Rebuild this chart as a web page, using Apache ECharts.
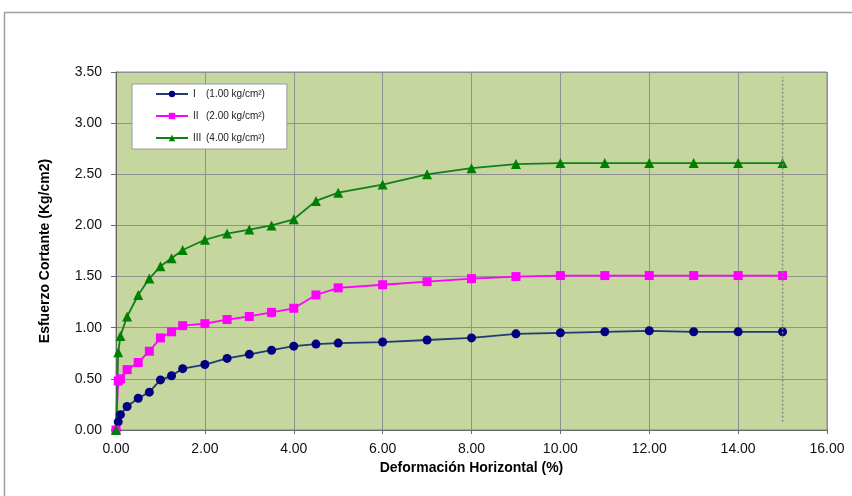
<!DOCTYPE html>
<html>
<head>
<meta charset="utf-8">
<script src="https://cdn.jsdelivr.net/npm/echarts@6/dist/echarts.min.js"></script>
<style>
html,body{margin:0;padding:0;background:#fff;}
#chart{width:852px;height:496px;}
</style>
</head>
<body>
<div id="chart"></div>
<script>
// Deformación horizontal (%)
const deformation = [0, 0.05, 0.1, 0.25, 0.5, 0.75, 1.0, 1.25, 1.5, 2.0, 2.5, 3.0, 3.5, 4.0, 4.5, 5, 6, 7, 8, 9, 10, 11, 12, 13, 14, 15];
// Esfuerzo cortante (Kg/cm2)
const seriesI   = [0, 0.08, 0.15, 0.23, 0.31, 0.37, 0.49, 0.53, 0.60, 0.64, 0.70, 0.74, 0.78, 0.82, 0.84, 0.85, 0.86, 0.88, 0.90, 0.94, 0.95, 0.96, 0.97, 0.96, 0.96, 0.96];
const seriesII  = [0, 0.48, 0.50, 0.59, 0.66, 0.77, 0.90, 0.96, 1.02, 1.04, 1.08, 1.11, 1.15, 1.19, 1.32, 1.39, 1.42, 1.45, 1.48, 1.50, 1.51, 1.51, 1.51, 1.51, 1.51, 1.51];
const seriesIII = [0, 0.76, 0.92, 1.11, 1.32, 1.48, 1.60, 1.68, 1.76, 1.86, 1.92, 1.96, 2.00, 2.06, 2.24, 2.32, 2.40, 2.50, 2.56, 2.60, 2.61, 2.61, 2.61, 2.61, 2.61, 2.61];
const seriesNames = ['I', 'II', 'III'];
const seriesLoads = ['(1.00 kg/cm²)', '(2.00 kg/cm²)', '(4.00 kg/cm²)'];
// reference vertical line at 15 %
const refLineX = [15, 15];
const refLineY = [0.08, 3.45];
const xAxisTitle = 'Deformación Horizontal (%)';
const yAxisTitle = 'Esfuerzo Cortante (Kg/cm2)';

const pair = (xs, ys) => xs.map((x, i) => [x, ys[i]]);
const font = 'Liberation Sans, Arial, sans-serif';

const chart = echarts.init(document.getElementById('chart'), null, {renderer: 'canvas'});
const styles = [
  {color: '#000080', line: '#1f3b73', symbol: 'circle', size: 9},
  {color: '#ff00ff', line: '#ff00ff', symbol: 'rect', size: 9},
  {color: '#008000', line: '#11801a', symbol: 'triangle', size: 10}
];
const values = [seriesI, seriesII, seriesIII];

const series = values.map((v, i) => ({
  name: seriesNames[i],
  type: 'line',
  data: pair(deformation, v),
  symbol: styles[i].symbol,
  symbolSize: styles[i].size,
  showAllSymbol: true,
  itemStyle: {color: styles[i].color},
  lineStyle: {color: styles[i].line, width: 1.8},
  emphasis: {disabled: true}
}));
series.push({
  name: 'ref',
  type: 'line',
  data: pair(refLineX, refLineY),
  showSymbol: false,
  symbol: 'none',
  lineStyle: {color: '#8a8a8a', width: 1.5, type: [2, 2]},
  silent: true,
  z: 5
});

const option = {
  animation: false,
  backgroundColor: '#ffffff',
  graphic: [{
    type: 'rect',
    shape: {x: 4.5, y: 12.5, width: 900, height: 600},
    style: {fill: 'none', stroke: '#a0a0a0', lineWidth: 1.5},
    silent: true
  }],
  grid: {
    left: 116, right: 25, top: 72, bottom: 66,
    show: true,
    backgroundColor: '#c5d69e',
    borderColor: '#888888',
    borderWidth: 1
  },
  legend: {
    data: seriesNames,
    orient: 'vertical',
    left: 132, top: 84,
    backgroundColor: '#ffffff',
    borderColor: '#9a9a9a',
    borderWidth: 1,
    padding: [5, 22, 6, 23],
    itemWidth: 32,
    itemHeight: 8,
    itemGap: 12,
    formatter: name => '{a|' + name + '}' + seriesLoads[seriesNames.indexOf(name)],
    textStyle: {
      fontFamily: font, fontSize: 10, color: '#222',
      rich: {a: {width: 13, fontFamily: font, fontSize: 10, color: '#222'}}
    }
  },
  xAxis: {
    type: 'value',
    min: 0, max: 16, interval: 2,
    name: xAxisTitle,
    nameLocation: 'middle',
    nameGap: 27,
    nameTextStyle: {fontFamily: font, fontSize: 14, fontWeight: 'bold', color: '#000'},
    axisLine: {show: true, lineStyle: {color: '#666', width: 1}},
    axisTick: {show: true, length: 4, inside: false, lineStyle: {color: '#666'}},
    axisLabel: {
      margin: 12, fontFamily: font, fontSize: 14, color: '#111',
      formatter: v => v.toFixed(2)
    },
    splitLine: {show: true, lineStyle: {color: '#909090', width: 1}}
  },
  yAxis: {
    type: 'value',
    min: 0, max: 3.5, interval: 0.5,
    name: yAxisTitle,
    nameLocation: 'middle',
    nameGap: 64,
    nameTextStyle: {fontFamily: font, fontSize: 14, fontWeight: 'bold', color: '#000'},
    axisLine: {show: true, lineStyle: {color: '#666', width: 1}},
    axisTick: {show: true, length: 5, inside: false, lineStyle: {color: '#666'}},
    axisLabel: {
      margin: 14, fontFamily: font, fontSize: 14, color: '#111',
      formatter: v => v.toFixed(2)
    },
    splitLine: {show: true, lineStyle: {color: '#909090', width: 1}}
  },
  series: series
};
chart.setOption(option);
</script>
</body>
</html>
